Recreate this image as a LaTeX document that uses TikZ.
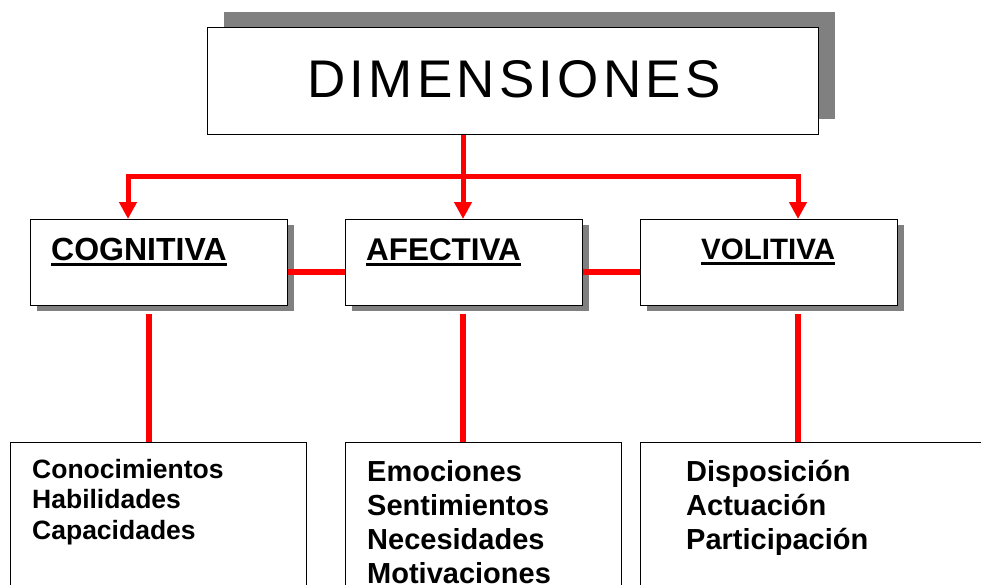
\documentclass[tikz,border=0pt]{standalone}
\usepackage{fontspec}
\setmainfont{Liberation Sans}
\usetikzlibrary{arrows.meta,shadows}
\begin{document}
\begin{tikzpicture}[x=1pt,y=-1pt,
  box/.style={draw=black, line width=1.4pt, fill=white, inner sep=0pt, anchor=north west},
  shadowbox/.style={box, drop shadow={shadow xshift=6pt, shadow yshift=-5pt, fill=black!50, opacity=1}},
  titletext/.style={font=\fontsize{#1}{38}\selectfont\bfseries, inner sep=0pt, anchor=base west},
  uline/.style={line width=3pt},
  redline/.style={draw=red, line width=5pt},
  downline/.style={draw=red, line width=6pt},
  redarrows/.style={redline, {Triangle[width=17pt,length=17pt]}-{Triangle[width=17pt,length=17pt]}},
  redarrow/.style={redline, -{Triangle[width=17pt,length=17pt]}},
  listA/.style={font=\fontsize{26.5}{30.5}\selectfont\bfseries, align=left, inner sep=0pt, anchor=base west},
  listB/.style={font=\fontsize{29}{34}\selectfont\bfseries, align=left, inner sep=0pt, anchor=base west},
]
\useasboundingbox (0,0) rectangle (981,584);

% top box
\node[box, drop shadow={shadow xshift=16pt, shadow yshift=16pt, fill=black!50, opacity=1},
      minimum width=611pt, minimum height=107pt] (dim) at (207,27) {};
\node[font=\fontsize{53}{60}\selectfont\addfontfeature{LetterSpace=8}, inner sep=0pt, anchor=base west] (dimt) at (307,97) {DIMENSIONES};

% middle boxes
\node[shadowbox, minimum width=257pt, minimum height=86pt] (cog) at (30,219) {};
\node[shadowbox, minimum width=237pt, minimum height=86pt] (afe) at (345,219) {};
\node[shadowbox, minimum width=257pt, minimum height=86pt] (vol) at (640,219) {};

\node[titletext=32] (cogt) at (51,260) {COGNITIVA};
\node[titletext=31.4] (afet) at (366,260) {AFECTIVA};
\node[titletext=29.5] (volt) at (701,259) {VOLITIVA};
\draw[uline] ([yshift=-4.3pt]cogt.base west) -- ([yshift=-4.3pt]cogt.base east);
\draw[uline] ([yshift=-4.3pt]afet.base west) -- ([yshift=-4.3pt]afet.base east);
\draw[uline] ([yshift=-4pt]volt.base west) -- ([yshift=-4pt]volt.base east);

% bottom boxes
\node[box, minimum width=296pt, minimum height=170pt] (b1) at (10,442) {};
\node[box, minimum width=276pt, minimum height=170pt] (b2) at (345,442) {};
\node[box, minimum width=360pt, minimum height=170pt] (b3) at (640,442) {};

% base anchor of a multi-line node = baseline of its last line
\node[listA] (l1) at (32,539) {Conocimientos\\Habilidades\\Capacidades};
\node[listB] (l2) at (367,583) {Emociones\\Sentimientos\\Necesidades\\Motivaciones};
\node[listB] (l3) at (686,549) {Disposición\\Actuación\\Participación};

% red connectors
\coordinate (jL) at (128,176.5);
\coordinate (jM) at (463,176.5);
\coordinate (jR) at (798,176.5);
\draw[redarrows] (jL |- cog.north) -- (jL) -- (jR) -- (jR |- vol.north);
\draw[redarrow] (jM |- dim.south) -- (jM |- afe.north);

\draw[redline, line width=5.5pt] ([yshift=-9.5pt]cog.east) -- ([yshift=-9.5pt]afe.west);
\draw[redline, line width=5.5pt] ([yshift=-9.5pt]afe.east) -- ([yshift=-9.5pt]vol.west);

\coordinate (d1) at (149,314);
\coordinate (d2) at (463,314);
\coordinate (d3) at (798,314);
\draw[downline] (d1) -- (d1 |- b1.north);
\draw[downline] (d2) -- (d2 |- b2.north);
\draw[downline] (d3) -- (d3 |- b3.north);
\end{tikzpicture}
\end{document}
